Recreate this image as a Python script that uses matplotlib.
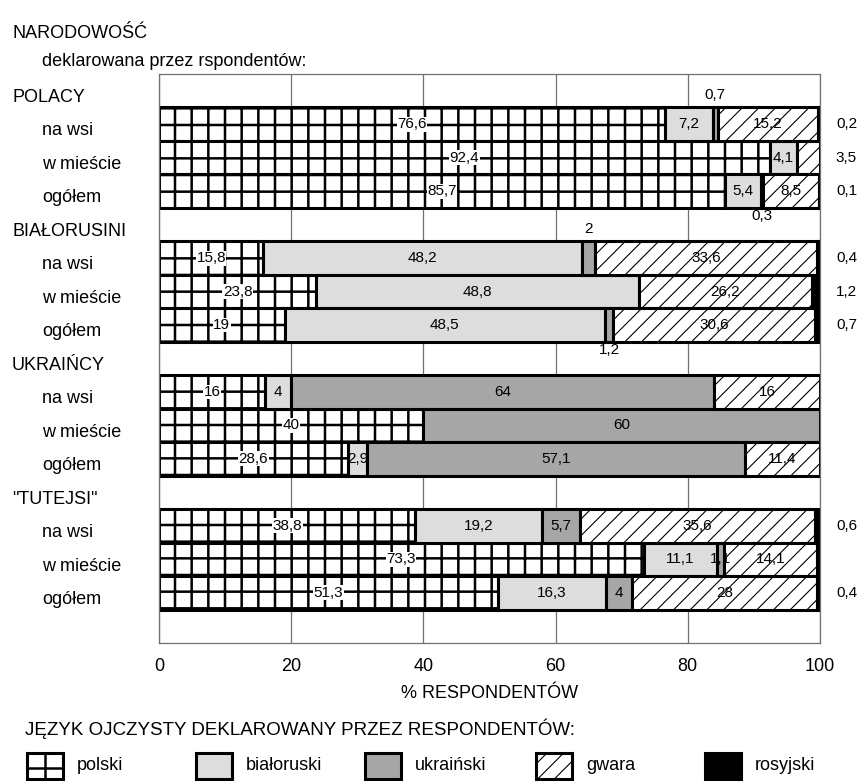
import numpy as np
import matplotlib
matplotlib.use('Agg')
import matplotlib.pyplot as plt
from matplotlib.patches import Rectangle
from matplotlib.lines import Line2D
import matplotlib.transforms as mtransforms

plt.rcParams['font.family'] = ['Liberation Sans', 'DejaVu Sans']

# ---------------- data ----------------
groups = ['POLACY', 'BIAŁORUSINI', 'UKRAIŃCY', '"TUTEJSI"']
places = ['na wsi', 'w mieście', 'ogółem']
languages = ['polski', 'białoruski', 'ukraiński', 'gwara', 'rosyjski']

polski     = [76.6, 92.4, 85.7, 15.8, 23.8, 19.0, 16.0, 40.0, 28.6, 38.8, 73.3, 51.3]
bialoruski = [7.2, 4.1, 5.4, 48.2, 48.8, 48.5, 4.0, 0.0, 2.9, 19.2, 11.1, 16.3]
ukrainski  = [0.7, 0.0, 0.3, 2.0, 0.0, 1.2, 64.0, 60.0, 57.1, 5.7, 1.1, 4.0]
gwara      = [15.2, 3.5, 8.5, 33.6, 26.2, 30.6, 16.0, 0.0, 11.4, 35.6, 14.1, 28.0]
rosyjski   = [0.2, 0.0, 0.1, 0.4, 1.2, 0.7, 0.0, 0.0, 0.0, 0.6, 0.4, 0.4]

xticks = [0, 20, 40, 60, 80, 100]

# label placement for small segments (series index, bar index) -> mode
label_modes = {
    (2, 0): 'above', (2, 2): 'below', (2, 3): 'above', (2, 5): 'below',
    (3, 1): 'right',
    (4, 10): 'hide',
}

series = [polski, bialoruski, ukrainski, gwara, rosyjski]
styles = [
    dict(facecolor='white', hatch='+', hlw=1.8),
    dict(facecolor='#dddddd', hatch=None, hlw=1.0),
    dict(facecolor='#a6a6a6', hatch=None, hlw=1.0),
    dict(facecolor='white', hatch='//', hlw=0.8),
    dict(facecolor='black', hatch=None, hlw=1.0),
]

W, H = 858, 781
fig = plt.figure(figsize=(W / 100, H / 100), dpi=100)

def fx(px):
    return px / W

def fy(py):
    return 1 - py / H

ax_l, ax_r, ax_t, ax_b = 159, 820, 74, 643
ax = fig.add_axes([fx(ax_l), fy(ax_b), fx(ax_r) - fx(ax_l), fy(ax_t) - fy(ax_b)])

# rows: 0 group header, 1..3 bars, 4 header, ... 16 empty
bar_rows = []
row_labels = []
r = 0
for g in groups:
    row_labels.append((r, g, 'group'))
    r += 1
    for p in places:
        row_labels.append((r, p, 'sub'))
        bar_rows.append(r)
        r += 1
nrows = r + 1

bar_rows = np.array(bar_rows, dtype=float)
left = np.zeros(len(bar_rows))
edge_lw = 2.2

for si, (vals, st) in enumerate(zip(series, styles)):
    vals = np.array(vals)
    mask = vals > 0
    with plt.rc_context({'hatch.linewidth': st['hlw'], 'hatch.color': 'black'}):
        bars = ax.barh(bar_rows[mask], vals[mask], left=left[mask], height=1.0,
                       color=st['facecolor'], edgecolor='black', linewidth=edge_lw,
                       hatch=st['hatch'], zorder=2)
        for b in bars:
            if hasattr(b, 'set_hatch_linewidth'):
                b.set_hatch_linewidth(st['hlw'])
    # labels
    for bi in range(len(vals)):
        v = vals[bi]
        if v <= 0:
            continue
        mode = label_modes.get((si, bi), 'right' if si == 4 else 'in')
        txt = f"{v:g}".replace('.', ',')
        cx = left[bi] + v / 2
        y = bar_rows[bi]
        if mode == 'hide':
            continue
        if mode == 'in':
            kw = {}
            if si == 0:
                kw['bbox'] = dict(facecolor='white', edgecolor='none', pad=0.3)
            ax.text(cx, y, txt, ha='center', va='center', fontsize=11, zorder=5, **kw)
        elif mode == 'above':
            ax.text(cx, y - 0.87, txt, ha='center', va='center', fontsize=11, zorder=5)
        elif mode == 'below':
            ax.text(cx, y + 0.75, txt, ha='center', va='center', fontsize=11, zorder=5)
        elif mode == 'right':
            trans = mtransforms.blended_transform_factory(ax.transAxes, ax.transData)
            ax.text(1.04, y, txt, ha='center', va='center', fontsize=11,
                    transform=trans, clip_on=False)
    left = left + vals

ax.set_xlim(0, 100)
ax.set_ylim(nrows - 0.5, -0.5)
ax.set_xticks(xticks)
ax.set_xticklabels([str(t) for t in xticks], fontsize=13)
ax.tick_params(axis='x', length=0, pad=11)
ax.set_yticks([])
ax.set_axisbelow(True)
ax.xaxis.grid(True, color='#707070', linewidth=0.9, zorder=0)
for s in ax.spines.values():
    s.set_color('#707070')
    s.set_linewidth(0.9)

# left labels
ytrans = mtransforms.blended_transform_factory(fig.transFigure, ax.transData)
for rr, lab, kind in row_labels:
    xx = fx(12) if kind == 'group' else fx(42)
    ax.text(xx, rr + 0.2, lab, ha='left', va='center', fontsize=13,
            transform=ytrans, clip_on=False)

fig.text(fx(12), fy(34), 'NARODOWOŚĆ', ha='left', va='center', fontsize=13)
fig.text(fx(42), fy(61), 'deklarowana przez rspondentów:', ha='left', va='center', fontsize=13)

fig.text(fx((ax_l + ax_r) / 2), fy(693), '% RESPONDENTÓW', ha='center', va='center', fontsize=13)

# legend
fig.text(fx(25), fy(729), 'JĘZYK OJCZYSTY DEKLAROWANY PRZEZ RESPONDENTÓW:',
         ha='left', va='center', fontsize=13.5)
leg_x = [27, 196, 365, 536, 705]
pw, ph = 36, 26
ly0 = 779
for li, (lab, st) in enumerate(zip(languages, styles)):
    x0 = leg_x[li]
    hatch = st['hatch'] if st['hatch'] != '+' else None
    with plt.rc_context({'hatch.linewidth': st['hlw'], 'hatch.color': 'black'}):
        rect = Rectangle((fx(x0), fy(ly0)), fx(pw), ph / H, transform=fig.transFigure,
                         facecolor=st['facecolor'], edgecolor='black', linewidth=2.2,
                         hatch=hatch, zorder=2)
        if hasattr(rect, 'set_hatch_linewidth'):
            rect.set_hatch_linewidth(st['hlw'])
    fig.add_artist(rect)
    if st['hatch'] == '+':
        cxp = x0 + pw / 2
        cyp = ly0 - ph / 2 + 2
        fig.add_artist(Line2D([fx(cxp), fx(cxp)], [fy(ly0), fy(ly0 - ph)],
                              transform=fig.transFigure, color='black', lw=1.8, zorder=3))
        fig.add_artist(Line2D([fx(x0), fx(x0 + pw)], [fy(cyp), fy(cyp)],
                              transform=fig.transFigure, color='black', lw=1.8, zorder=3))
    fig.text(fx(x0 + pw + 14), fy(766), lab, ha='left', va='center', fontsize=13)

fig.savefig('out.png', dpi=100)
